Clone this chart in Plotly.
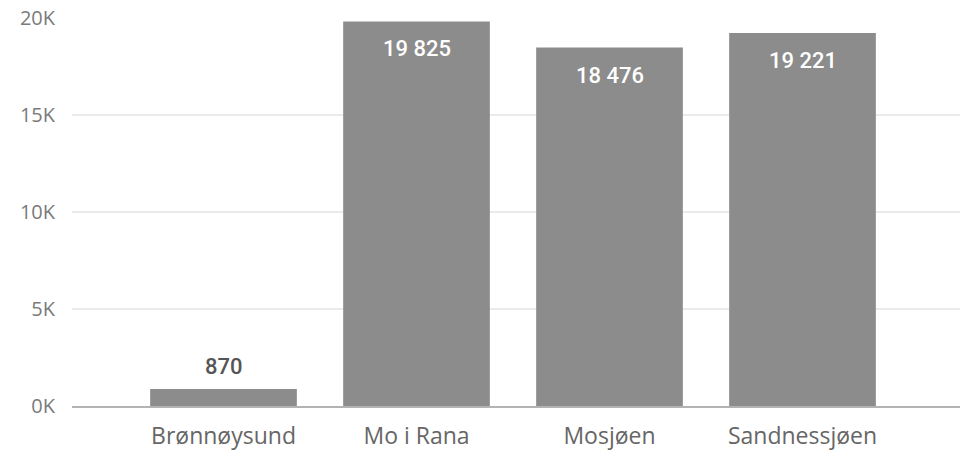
import plotly.graph_objects as go

steder = ["Brønnøysund", "Mo i Rana", "Mosjøen", "Sandnessjøen"]
antall = [870, 19825, 18476, 19221]
tick_vals = [0, 5000, 10000, 15000, 20000]
tick_text = ["0K", "5K", "10K", "15K", "20K"]

fig = go.Figure()
fig.add_trace(go.Bar(
    x=steder, y=antall,
    marker=dict(color="#8c8c8c", line=dict(width=0)),
    width=0.76,
    hoverinfo="skip",
))

# Power BI-aktige etiketter: utenfor for lav stolpe, ellers inni ved toppen
for sted, v in zip(steder, antall):
    inni = v > 3000
    fig.add_annotation(
        x=sted, y=v, text=f"{v:,}".replace(",", " "),
        showarrow=False,
        yanchor="top" if inni else "bottom",
        yshift=-13 if inni else 8,
        font=dict(family="Roboto", size=22, weight=500,
                  color="white" if inni else "#555555"),
    )

fig.update_layout(
    width=963, height=453,
    margin=dict(l=72, r=3, t=18, b=47),
    plot_bgcolor="white", paper_bgcolor="white",
    showlegend=False,
    font=dict(family="Open Sans", color="#666666"),
)
fig.update_xaxes(
    range=[-0.785, 3.816],
    automargin=False,
    showgrid=False,
    showline=True, linecolor="#b3b3b3", linewidth=2,
    tickfont=dict(family="Open Sans", size=23, color="#666666"),
    ticks="", ticklabelstandoff=8,
)
fig.update_yaxes(
    range=[0, 20000],
    automargin=False,
    tickvals=tick_vals, ticktext=tick_text,
    showgrid=True, gridcolor="#ebebeb", gridwidth=1.5,
    zeroline=False, showline=False,
    tickfont=dict(family="Open Sans", size=20, color="#7a7a7a"),
    ticklabelstandoff=16,
)

# siden skal fylle vinduet uten standardmarg rundt body
fig.write_html("out.html", config={"displayModeBar": False},
               post_script="document.body.style.margin='0';")
